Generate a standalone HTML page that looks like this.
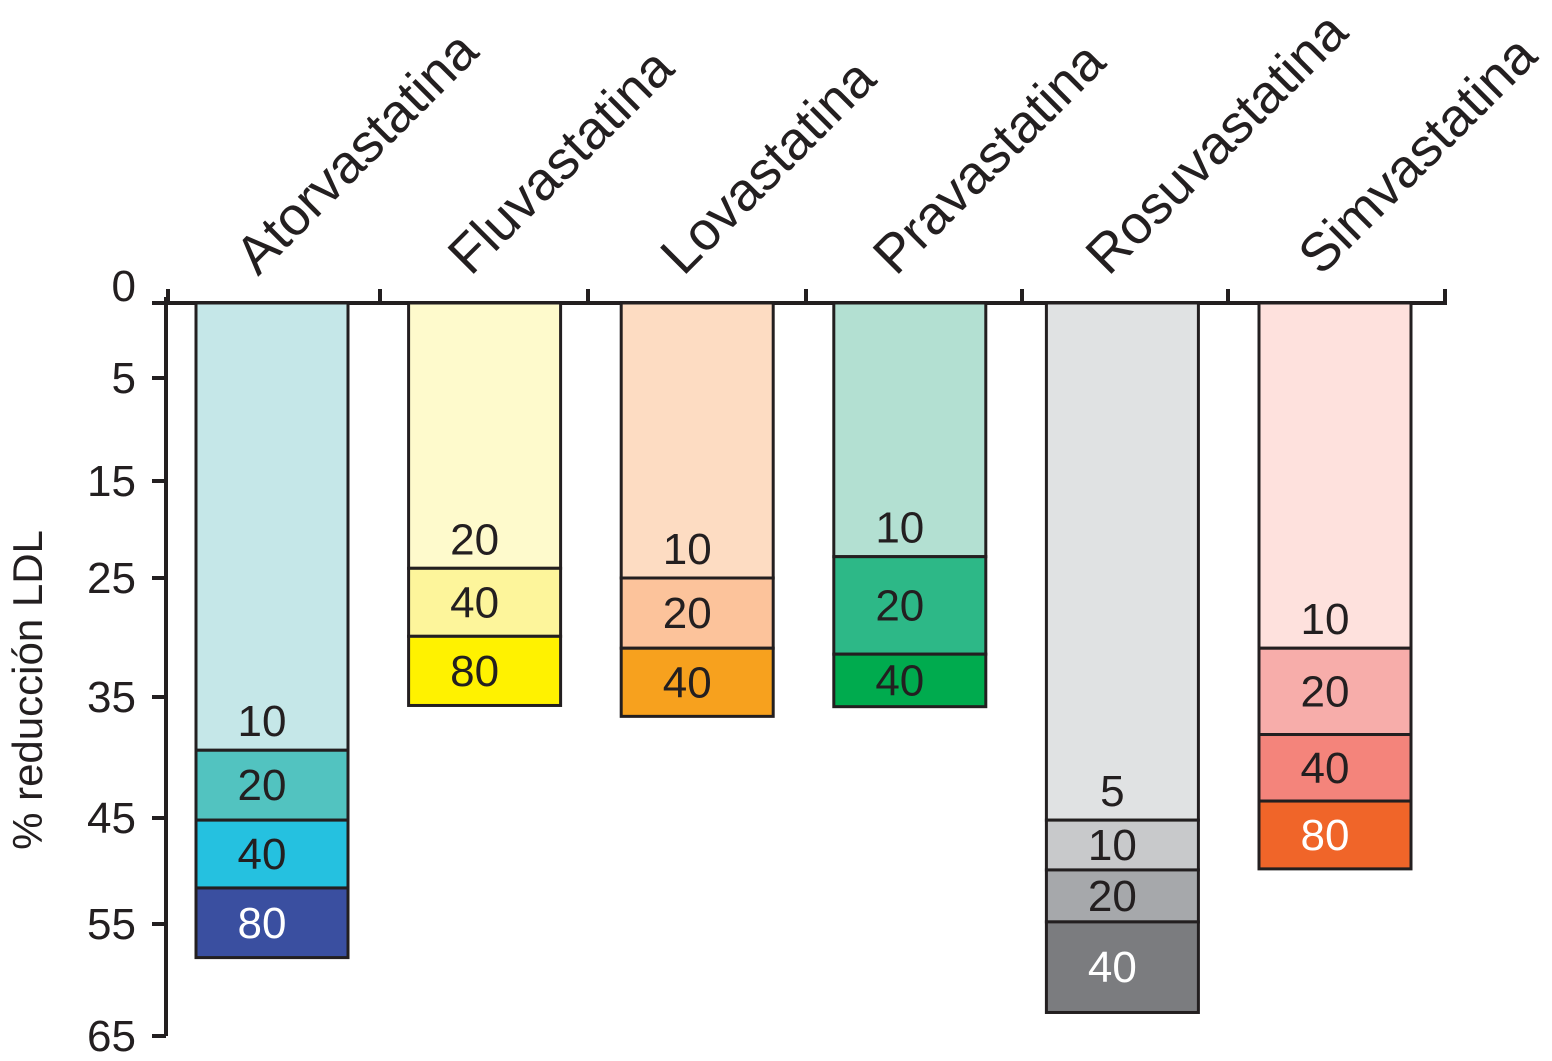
<!DOCTYPE html>
<html><head><meta charset="utf-8"><style>
html,body{margin:0;padding:0;background:#fff;}
svg{display:block;font-family:"Liberation Sans",Arial,sans-serif;}
</style></head><body>
<svg id="chart" width="1552" height="1061" viewBox="0 0 1552 1061">
<text x="42" y="690" font-size="42" fill="#231f20" text-anchor="middle" transform="rotate(-90 42 690)">% reducción LDL</text>
<g id="axes"></g>
<g id="bars"></g>
</svg>
<script>
const categories = ["Atorvastatina","Fluvastatina","Lovastatina","Pravastatina","Rosuvastatina","Simvastatina"];
const doses = [["10","20","40","80"],["20","40","80"],["10","20","40"],["10","20","40"],["5","10","20","40"],["10","20","40","80"]];
const reductions = [[39.4,45.2,51.6,58.0],[24.0,29.9,35.7],[25.0,30.9,36.6],[22.8,31.4,35.8],[45.2,49.9,54.8,62.9],[30.9,38.1,43.6,49.8]];
const colors = [["#c5e7e8","#52c3c0","#25c1e0","#3a4fa0"],["#fefacc","#fdf59b","#fff200"],["#fddcc2","#fcc39b","#f7a11e"],["#b3e0d2","#2db887","#00ab4e"],["#e0e2e3","#c8c9cb","#a6a8ab","#7b7c7f"],["#fee1dd","#f7adaa","#f4847b","#f06529"]];
const whiteLabels = [[false,false,false,true],[false,false,false],[false,false,false],[false,false,false],[false,false,false,true],[false,false,false,true]];
const tickValues = [0,5,15,25,35,45,55,65];
const tickLabels = ["0","5","15","25","35","45","55","65"];
// layout: printed axis is non-uniform; pixel anchors for each tick
const tickPix = [303,378,481,578,697,818,924,1036];
function y(v){
  for(let i=0;i<tickValues.length-1;i++){
    if(v<=tickValues[i+1]){const t=(v-tickValues[i])/(tickValues[i+1]-tickValues[i]);return tickPix[i]+t*(tickPix[i+1]-tickPix[i]);}
  }
  return tickPix[tickPix.length-1];
}
const barLeft0=196, barStep=212.6, barW=152;
function x(i){return barLeft0+i*barStep;}
const NS="http://www.w3.org/2000/svg";
function mk(t,a,p){const e=document.createElementNS(NS,t);for(const k in a)e.setAttribute(k,a[k]);p.appendChild(e);return e;}
const axes=document.getElementById('axes'), bars=document.getElementById('bars');
const ax=mk('line',{x1:166,y1:y(0)-6,x2:166,y2:y(65),stroke:'#231f20','stroke-width':4},axes);


const tx=mk('line',{x1:152,y1:y(0),x2:1447,y2:y(0),stroke:'#231f20','stroke-width':4},axes);


const sepX=[168,380,588,806,1022,1228,1445];
sepX.forEach(sx=>{const l=mk('line',{x1:sx,y1:y(0),x2:sx,y2:y(0)-14,stroke:'#231f20','stroke-width':4},axes);

});
tickValues.forEach((v,i)=>{
  const l=mk('line',{x1:152,y1:y(v),x2:166,y2:y(v),stroke:'#231f20','stroke-width':4},axes);
  
  
  const t=mk('text',{x:136,y:y(v)+(i==0?-2:15),'font-size':44,fill:'#231f20','text-anchor':'end'},axes);
  t.textContent=tickLabels[i];
  
  
});
categories.forEach((c,i)=>{
  const cx=x(i)+barW/2;
  const t=mk('text',{x:cx-14,y:277,'font-size':54,fill:'#231f20',transform:`rotate(-45 ${cx-14} 277)`},axes);
  t.textContent=c;
  
  
  let prev=0;
  reductions[i].forEach((r,j)=>{
    const y0=y(prev),y1=y(r);
    const rc=mk('rect',{x:x(i),y:y0,width:barW,height:y1-y0,fill:colors[i][j],stroke:'#231f20','stroke-width':3},bars);
    
    
    const ly=j==0?y1-14:(y0+y1)/2+15;
    const lt=mk('text',{x:cx-10,y:ly,'font-size':44,fill:whiteLabels[i][j]?'#fff':'#231f20','text-anchor':'middle'},bars);
    lt.textContent=doses[i][j];
    
    
    prev=r;
  });
});
</script>
</body></html>
